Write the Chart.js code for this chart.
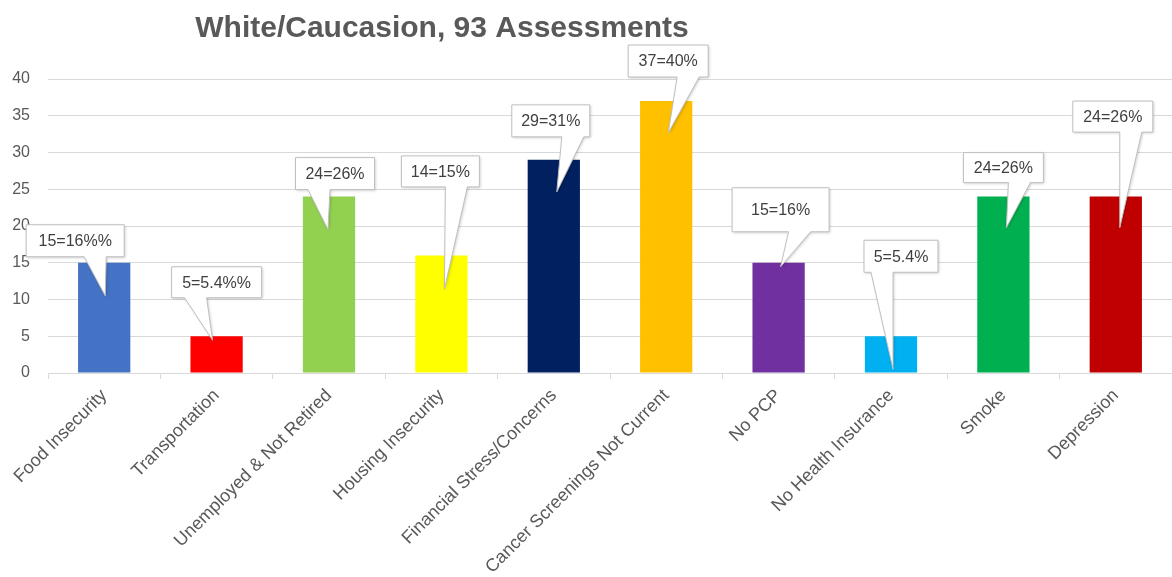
<!DOCTYPE html>
<html><head><meta charset="utf-8">
<script src="https://cdn.jsdelivr.net/npm/chart.js@4"></script>
<style>html,body{margin:0;padding:0;background:#fff}canvas{display:block}</style>
</head><body>
<canvas id="c" width="1172" height="577"></canvas>
<script>
const titleText = 'White/Caucasion, 93 Assessments';
const categories = ['Food Insecurity', 'Transportation', 'Unemployed & Not Retired', 'Housing Insecurity', 'Financial Stress/Concerns', 'Cancer Screenings Not Current', 'No PCP', 'No Health Insurance', 'Smoke', 'Depression'];
const counts = [15, 5, 24, 16, 29, 37, 15, 5, 24, 24];
const calloutLabels = ['15=16%%', '5=5.4%%', '24=26%', '14=15%', '29=31%', '37=40%', '15=16%', '5=5.4%', '24=26%', '24=26%'];
const yTickValues = [0, 5, 10, 15, 20, 25, 30, 35, 40];
const barColors = ['#4472C4', '#FF0000', '#92D050', '#FFFF00', '#002060', '#FFC000', '#7030A0', '#00B0F0', '#00B050', '#C00000'];

const FONT = '"Liberation Sans", Arial, sans-serif';

const calloutPlugin = {
  id: 'callouts',
  afterDatasetsDraw(chart, args, opts) {
    const ctx = chart.ctx;
    const meta = chart.getDatasetMeta(0);
    meta.data.forEach((bar, i) => {
      const g = opts.items[i];
      if (!g) return;
      const cx = bar.x + g.dx, cy = bar.y + g.dy;
      const l = cx - g.w / 2, r = cx + g.w / 2, t = cy - g.h / 2, b = cy + g.h / 2;
      const tipX = bar.x + g.tipDx, tipY = bar.y + g.tipDy;
      const bc = cx + g.baseDx, hw = opts.baseWidth / 2;
      ctx.save();
      ctx.beginPath();
      ctx.moveTo(l, t);
      ctx.lineTo(r, t);
      ctx.lineTo(r, b);
      ctx.lineTo(bc + hw, b);
      ctx.lineTo(tipX, tipY);
      ctx.lineTo(bc - hw, b);
      ctx.lineTo(l, b);
      ctx.closePath();
      ctx.shadowColor = 'rgba(0,0,0,0.22)';
      ctx.shadowBlur = 3;
      ctx.shadowOffsetX = 1;
      ctx.shadowOffsetY = 1;
      ctx.fillStyle = '#ffffff';
      ctx.fill();
      ctx.shadowColor = 'transparent';
      ctx.lineWidth = 1;
      ctx.strokeStyle = '#bfbfbf';
      ctx.stroke();
      ctx.fillStyle = '#404040';
      ctx.font = opts.font;
      ctx.textAlign = 'center';
      ctx.textBaseline = 'middle';
      ctx.fillText(calloutLabels[i], cx, cy + 1);
      ctx.restore();
    });
  }
};

const titlePlugin = {
  id: 'sideTitle',
  afterDraw(chart, args, opts) {
    const ctx = chart.ctx;
    ctx.save();
    ctx.font = opts.font;
    ctx.fillStyle = opts.color;
    ctx.textAlign = 'center';
    ctx.textBaseline = 'alphabetic';
    ctx.fillText(titleText, opts.x, opts.y);
    ctx.restore();
  }
};

new Chart(document.getElementById('c'), {
  type: 'bar',
  data: {
    labels: categories,
    datasets: [{
      data: counts,
      backgroundColor: barColors,
      borderWidth: 0,
      categoryPercentage: 1,
      barPercentage: 0.465
    }]
  },
  options: {
    responsive: false,
    animation: false,
    layout: { padding: { top: 79, right: 0, left: 0, bottom: 0 } },
    plugins: {
      legend: { display: false },
      tooltip: { enabled: false },
      title: { display: false },
      sideTitle: { x: 442, y: 37, font: 'bold 30px ' + FONT, color: '#595959' },
      callouts: {
        font: '16px ' + FONT,
        baseWidth: 22,
        items: [
          { dx: -29, dy: -22, w: 98, h: 32, tipDx: 1, tipDy: 33, baseDx: 20 },
          { dx: 0, dy: -54, w: 90, h: 31, tipDx: -4, tipDy: 4, baseDx: -21 },
          { dx: 6, dy: -23, w: 79, h: 32, tipDx: -1, tipDy: 33, baseDx: -16 },
          { dx: -1, dy: -84, w: 78, h: 31, tipDx: 3, tipDy: 34, baseDx: 16 },
          { dx: -3, dy: -39, w: 78, h: 32, tipDx: 3, tipDy: 32, baseDx: 22 },
          { dx: 2, dy: -40, w: 80, h: 32, tipDx: 2, tipDy: 32, baseDx: 20 },
          { dx: 2, dy: -53, w: 97, h: 44, tipDx: 2, tipDy: 4, baseDx: 19 },
          { dx: 10, dy: -80, w: 74, h: 32, tipDx: 2, tipDy: 33, baseDx: -19 },
          { dx: 0, dy: -29, w: 80, h: 30, tipDx: 3, tipDy: 31, baseDx: 16 },
          { dx: -3, dy: -80, w: 80, h: 31, tipDx: 4, tipDy: 31, baseDx: 18 }
        ]
      }
    },
    scales: {
      x: {
        offset: true,
        afterFit(scale) { scale.height = 204; },
        grid: { drawOnChartArea: false, drawTicks: true, tickLength: 6, color: '#d9d9d9', offset: true },
        border: { display: true, color: '#d9d9d9', width: 1 },
        ticks: {
          autoSkip: false, minRotation: 45, maxRotation: 45, padding: 6,
          color: '#595959', font: { family: FONT, size: 18 }
        }
      },
      y: {
        min: 0, max: 40,
        afterBuildTicks(scale) { scale.ticks = yTickValues.map(v => ({ value: v })); },
        afterFit(scale) { scale.width = 48; },
        grid: { color: '#d9d9d9', drawTicks: false, lineWidth: 1 },
        border: { display: false },
        ticks: { padding: 18, color: '#595959', font: { family: FONT, size: 16 } }
      }
    }
  },
  plugins: [calloutPlugin, titlePlugin]
});
</script>
</body></html>
